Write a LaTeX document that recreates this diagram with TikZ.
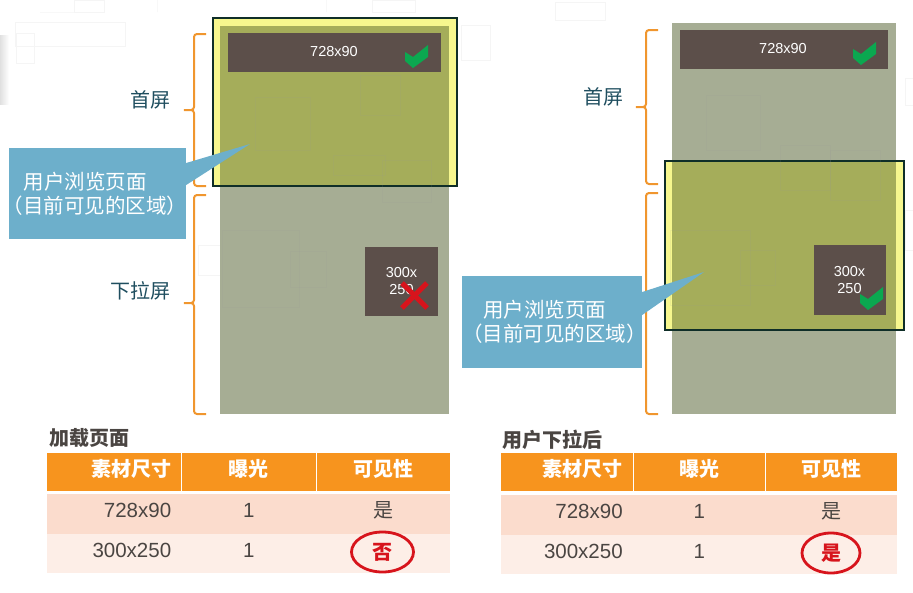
\documentclass[tikz,border=0pt]{standalone}
\usepackage{fontspec}
\setmainfont{Liberation Sans}
\newfontfamily\cjk{Noto Sans CJK SC}
\definecolor{PageGray}{HTML}{A6AD94}
\definecolor{PageOlive}{HTML}{A5AD5A}
\definecolor{ViewYellow}{HTML}{F6F78E}
\definecolor{ViewEdge}{HTML}{0F2E28}
\definecolor{AdBrown}{HTML}{5C4F4A}
\definecolor{TipBlue}{HTML}{6DAFCB}
\definecolor{BraceOrange}{HTML}{F0962E}
\definecolor{HeadOrange}{HTML}{F7941E}
\definecolor{RowDark}{HTML}{FBDCCD}
\definecolor{RowLight}{HTML}{FDEEE7}
\definecolor{LabelTeal}{HTML}{1F4E5F}
\definecolor{TextGray}{HTML}{4A4542}
\definecolor{MarkGreen}{HTML}{0BA850}
\definecolor{MarkRed}{HTML}{D7141C}
\tikzstyle{PageBox}=[fill=PageGray]
\tikzstyle{ViewFrame}=[draw=ViewEdge, line width=2.5pt, fill=ViewYellow]
\tikzstyle{OverlapBox}=[fill=PageOlive]
\tikzstyle{AdNode}=[rectangle, fill=AdBrown, text=white, inner sep=0pt, font=\fontsize{14.5}{17}\selectfont, align=center]
\tikzstyle{AdText}=[text=white, inner sep=0pt, font=\fontsize{14.5}{17}\selectfont]
\tikzstyle{TipNode}=[rectangle, fill=TipBlue, text=white, inner sep=0pt, align=left, font=\fontsize{20.5}{24}\selectfont\cjk]
\tikzstyle{ScreenLabel}=[text=LabelTeal, inner sep=0pt, font=\fontsize{20}{24}\selectfont\cjk]
\tikzstyle{ScreenBrace}=[draw=BraceOrange, line width=2pt, rounded corners=3pt]
\tikzstyle{TableTitle}=[text=TextGray, inner sep=0pt, anchor=west, font=\fontsize{20}{24}\selectfont\cjk\bfseries]
\tikzstyle{HeadCell}=[rectangle, fill=HeadOrange, text=white, inner sep=0pt, anchor=north west, minimum height=38pt, text height=16pt, text depth=7pt, font=\fontsize{20}{24}\selectfont\cjk\bfseries]
\tikzstyle{HeadFirst}=[HeadCell, inner xsep=10pt, text width=112pt, align=right]
\tikzstyle{BodyCell}=[rectangle, inner sep=0pt, text=TextGray, anchor=north west, minimum height=39.5pt, text height=14pt, text depth=6pt, font=\fontsize{20.5}{24}\selectfont]
\tikzstyle{BodyFirst}=[BodyCell, inner xsep=10pt, text width=112pt, align=right]
\tikzstyle{RedRing}=[ellipse, draw=MarkRed, line width=2.8pt, minimum width=62pt, minimum height=40pt, inner sep=0pt, text=MarkRed, font=\fontsize{20}{24}\selectfont\cjk\bfseries]
\tikzset{
  CheckMark/.pic={\fill[MarkGreen] (0,7) -- (8,12) -- (23,0) -- (23,12) -- (8,23) -- (0,16) -- cycle;},
}
\usetikzlibrary{shapes.geometric}
\begin{document}
\begin{tikzpicture}[x=1pt,y=-1pt]
\useasboundingbox (0,0) rectangle (913,592);
% faint squares behind everything
\shade[left color=black!12, right color=white] (0,35) rectangle (9,104);
\foreach \xa/\ya/\xb/\yb in {15/22/125/46, 40/12/93/12, 74/0/104/12, 16/33/34/63, 157/0/157/12, 326/0/326/12, 555/2/605/20, 372/0/415/12, 461/25/490/60, 905/78/913/105, 198/245/230/275, 905/210/913/250}
  \draw[black!4] (\xa,\ya) rectangle (\xb,\yb);
% left page
\fill[PageBox] (220,23) rectangle (449,414);
\draw[ViewFrame] (213,18) rectangle (457,186);
\fill[OverlapBox] (220,26) rectangle (449,185);
\foreach \xa/\ya/\xb/\yb in {255/97/310/150, 333/155/385/175, 382/160/431/202, 222/230/299/307, 290/251/326/287, 360/75/400/115}
  \draw[black!40, opacity=.12] (\xa,\ya) rectangle (\xb,\yb);
\node[AdNode, minimum width=213pt, minimum height=39pt](AdTopA) at (334.5,52.5) {};
\node[AdText](AdTopTextA) at (334,51.5) {728x90};
\pic at (405,45) {CheckMark};
\node[AdNode, minimum width=73pt, minimum height=69pt](AdSideA) at (401.5,281.5) {300x\\250};
\draw[MarkRed, line width=5pt] (402,283) -- (427,308);
\draw[MarkRed, line width=5pt] (427,283) -- (402,308);
% right page
\fill[PageBox] (672,23) rectangle (896,414);
\draw[ViewFrame] (665,161) rectangle (904,330);
\fill[OverlapBox] (672,162) rectangle (896,329);
\foreach \xa/\ya/\xb/\yb in {706/95/760/150, 780/145/830/190, 830/150/880/200, 740/250/775/285, 670/230/750/305}
  \draw[black!40, opacity=.12] (\xa,\ya) rectangle (\xb,\yb);
\node[AdNode, minimum width=208pt, minimum height=39pt](AdTopB) at (784,49.5) {};
\node[AdText](AdTopTextB) at (783,48.5) {728x90};
\pic at (853,42) {CheckMark};
\node[AdNode, minimum width=72pt, minimum height=70pt](AdSideB) at (849.5,280) {300x\\250};
\pic at (860,287) {CheckMark};
% braces
\draw[ScreenBrace] (206,34) -| (194,110) -- (182,110) -- (194,110) |- (206,186);
\draw[ScreenBrace] (206,195) -| (194,303) -- (182,303) -- (194,303) |- (206,414);
\draw[ScreenBrace] (658,30) -| (646,107) -- (634,107) -- (646,107) |- (658,184);
\draw[ScreenBrace] (658,193) -| (646,303) -- (634,303) -- (646,303) |- (658,414);
\node[ScreenLabel](FirstA) at (150,100) {首屏};
\node[ScreenLabel](PullA) at (140,291) {下拉屏};
\node[ScreenLabel](FirstB) at (603,97) {首屏};
% callouts
\node[TipNode, minimum height=91pt, text width=177pt](TipA) at (97.5,193.5) {\hspace*{15pt}用户浏览页面\\\hspace*{-6pt}（目前可见的区域）};
\coordinate (TipEndA) at (250,144);
\fill[TipBlue] (TipA.east |- 0,163) -- (TipEndA) -- (TipA.east |- 0,185) -- cycle;
\node[TipNode, minimum height=92pt, text width=180pt](TipB) at (552,322) {\hspace*{21pt}用户浏览页面\\（目前可见的区域）};
\coordinate (TipEndB) at (704,272);
\fill[TipBlue] (TipB.east |- 0,292) -- (TipEndB) -- (TipB.east |- 0,315) -- cycle;
% left table
\node[TableTitle](TitleA) at (49,438) {加载页面};
\node[HeadFirst, text width=114pt](HeadA1) at (47,453) {素材尺寸};
\node[HeadCell, minimum width=134pt](HeadA2) at (181.5,453) {曝光};
\node[HeadCell, minimum width=133.5pt](HeadA3) at (316.5,453) {可见性};
\node[BodyFirst, fill=RowDark, text width=114pt](RowA1) at (47,494) {728x90};
\node[BodyCell, fill=RowDark, minimum width=135pt](RowA2) at (181,494) {1};
\node[BodyCell, fill=RowDark, minimum width=134pt, font=\fontsize{20}{24}\selectfont\cjk](RowA3) at (316,494) {是};
\node[BodyFirst, fill=RowLight, text width=114pt](RowA4) at (47,533.5) {300x250};
\node[BodyCell, fill=RowLight, minimum width=135pt](RowA5) at (181,533.5) {1};
\node[BodyCell, fill=RowLight, minimum width=134pt](RowA6) at (316,533.5) {};
\node[RedRing](RingA) at (382.5,552) {否};
% right table
\node[TableTitle](TitleB) at (502,440) {用户下拉后};
\node[HeadFirst, minimum width=132pt, text width=111pt](HeadB1) at (501,453) {素材尺寸};
\node[HeadCell, minimum width=131pt](HeadB2) at (633.5,453) {曝光};
\node[HeadCell, minimum width=131.5pt](HeadB3) at (765.5,453) {可见性};
\node[BodyFirst, fill=RowDark, minimum width=132pt, text width=111pt](RowB1) at (501,495) {728x90};
\node[BodyCell, fill=RowDark, minimum width=132pt](RowB2) at (633,495) {1};
\node[BodyCell, fill=RowDark, minimum width=132pt, font=\fontsize{20}{24}\selectfont\cjk](RowB3) at (765,495) {是};
\node[BodyFirst, fill=RowLight, minimum width=132pt, text width=111pt](RowB4) at (501,534.5) {300x250};
\node[BodyCell, fill=RowLight, minimum width=132pt](RowB5) at (633,534.5) {1};
\node[BodyCell, fill=RowLight, minimum width=132pt](RowB6) at (765,534.5) {};
\node[RedRing, minimum width=58pt](RingB) at (831,553) {是};
\end{tikzpicture}
\end{document}
